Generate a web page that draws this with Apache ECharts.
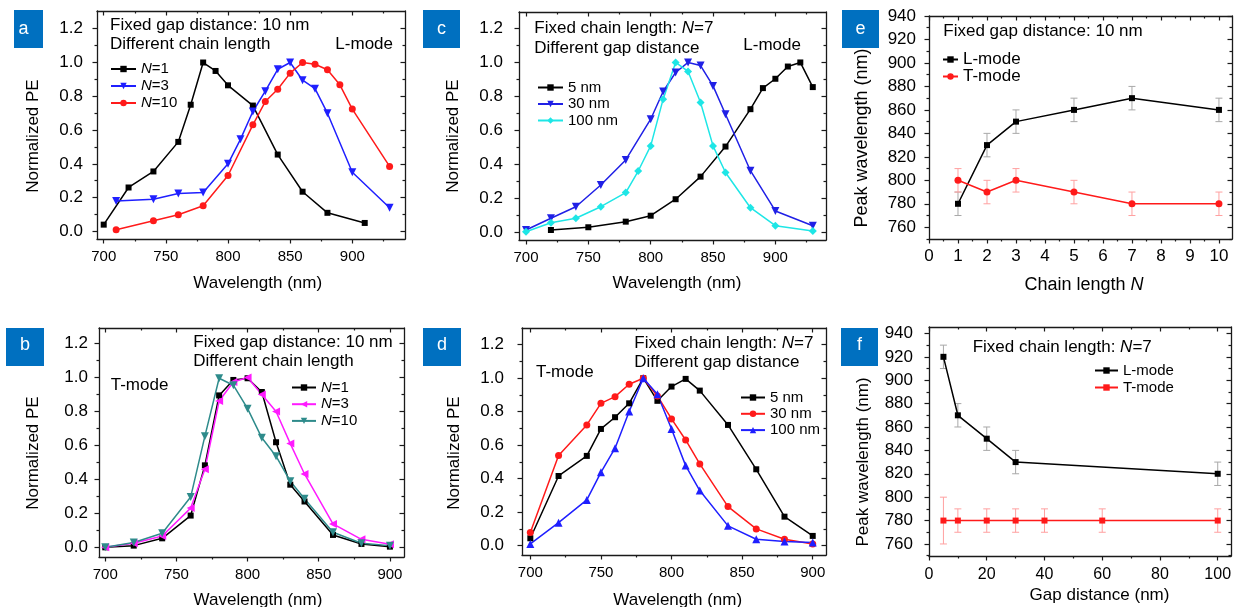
<!DOCTYPE html>
<html><head><meta charset="utf-8">
<script src="https://cdn.jsdelivr.net/npm/echarts@6/dist/echarts.min.js"></script>
<style>html,body{margin:0;padding:0;background:#fff}#c{width:1236px;height:607px}</style>
</head><body><div id="c"></div>
<script>
// ---------- DATA ----------
// Panel a: L-mode, fixed gap 10 nm, different chain length
const aN1X = [700,720,740,760,770,780,790,800,820,840,860,880,910];
const aN1Y = [0.04,0.26,0.355,0.53,0.75,1.0,0.95,0.865,0.745,0.455,0.235,0.11,0.05];
const aN3X = [710,740,760,780,800,810,820,830,840,850,860,870,880,900,930];
const aN3Y = [0.18,0.19,0.225,0.23,0.40,0.545,0.71,0.83,0.96,1.0,0.895,0.845,0.70,0.35,0.14];
const aN10X = [710,740,760,780,800,820,830,840,850,860,870,880,890,900,930];
const aN10Y = [0.01,0.063,0.099,0.152,0.331,0.631,0.769,0.842,0.937,1.0,0.99,0.957,0.868,0.724,0.385];
// Panel c: L-mode, fixed N=7, different gap
const c5X = [720,750,780,800,820,840,860,880,890,900,910,920,930];
const c5Y = [0.014,0.03,0.063,0.098,0.195,0.328,0.505,0.725,0.849,0.904,0.976,1.0,0.855];
const c30X = [700,720,740,760,780,800,810,820,830,840,850,860,880,900,930];
const c30Y = [0.014,0.083,0.151,0.279,0.426,0.666,0.829,0.941,1.0,0.982,0.862,0.695,0.363,0.126,0.039];
const c100X = [700,720,740,760,780,790,800,810,820,830,840,850,860,880,900,930];
const c100Y = [0.004,0.057,0.083,0.151,0.234,0.361,0.509,0.784,1.0,0.947,0.764,0.509,0.352,0.145,0.039,0.008];
// Panel b: T-mode, fixed gap 10 nm
const bX = [700,720,740,760,770,780,790,800,810,820,830,840,860,880,900];
const bN1 = [0,0.01,0.053,0.187,0.483,0.895,0.986,0.996,0.915,0.619,0.369,0.27,0.073,0.02,0.004];
const bN3 = [0,0.024,0.067,0.231,0.46,0.862,0.974,1.0,0.9,0.8,0.611,0.432,0.138,0.047,0.018];
const bN10 = [0,0.028,0.083,0.296,0.655,0.996,0.955,0.817,0.645,0.537,0.389,0.286,0.089,0.024,0.01];
// Panel d: T-mode, fixed N=7
const dX = [700,720,740,750,760,770,780,790,800,810,820,840,860,880,900];
const d5 = [0.044,0.416,0.536,0.697,0.767,0.85,1.0,0.865,0.95,0.996,0.926,0.721,0.456,0.173,0.058];
const d30 = [0.078,0.538,0.721,0.85,0.89,0.964,1.0,0.894,0.757,0.631,0.488,0.233,0.1,0.038,0.01];
const d100 = [0.01,0.137,0.273,0.438,0.582,0.801,1.0,0.904,0.697,0.478,0.329,0.118,0.038,0.024,0.018];
// Panel e: peak wavelength vs chain length
const eN = [1,2,3,5,7,10];
const eL = [780,830,850,860,870,860];
const eLerr = [10,10,10,10,10,10];
const eT = [800,790,800,790,780,780];
const eTerr = [10,10,10,10,10,10];
// Panel f: peak wavelength vs gap distance
const fGapL = [5,10,20,30,100];
const fL = [920,870,850,830,820];
const fLerr = [10,10,10,10,10];
const fGapT = [5,10,20,30,40,60,100];
const fT = [780,780,780,780,780,780,780];
const fTerr = [20,10,10,10,10,10,10];
// Tick values
const wlMajor = [700,750,800,850,900];
const wlMinorWide = [725,775,825,875,925];
const wlMinorNarrow = [725,775,825,875];
const peMajor = [0,0.2,0.4,0.6,0.8,1.0,1.2];
const peMinor = [0.1,0.3,0.5,0.7,0.9,1.1];
const nMajor = [0,1,2,3,4,5,6,7,8,9,10];
const nMinor = [0.5,1.5,2.5,3.5,4.5,5.5,6.5,7.5,8.5,9.5];
const pkMajor = [760,780,800,820,840,860,880,900,920,940];
const pkMinor = [750,770,790,810,830,850,870,890,910,930];
const gapMajor = [0,20,40,60,80,100];
const gapMinor = [10,30,50,70,90];

// ---------- BUILD ----------
const FONT = '"Liberation Sans", Arial, sans-serif';
const AX = '#1a1a1a';
const pairs = (xs, ys) => xs.map((x, i) => [x, ys[i]]);
const triples = (xs, ys, es) => xs.map((x, i) => [x, ys[i], es[i]]);
const grids = [], xAxes = [], yAxes = [], series = [], legends = [], graphics = [];
const richI = (fs) => ({ i: { fontStyle: 'italic', fontSize: fs, fontFamily: FONT, color: '#000' } });

function txt(t, x, y, fs, align, rot) {
  graphics.push({ type: 'text', x: x, y: y, rotation: rot || 0,
    style: { text: t, fill: '#000', fontSize: fs, fontFamily: FONT, align: align || 'left', verticalAlign: 'middle', rich: richI(fs) } });
}

function panel(p) {
  const gi = grids.length;
  grids.push({ left: p.left, top: p.top, width: p.width, height: p.height, containLabel: false, outerBoundsMode: 'none' });
  const line = { show: true, onZero: false, lineStyle: { color: AX, width: 1.3 } };
  const noLine = { show: false, onZero: false };
  const ts = { color: AX, width: 1.2 };
  const xi = xAxes.length, yi = yAxes.length;
  const bx = { gridIndex: gi, type: 'value', min: p.xMin, max: p.xMax, splitLine: { show: false }, minorTick: { show: false } };
  const by = { gridIndex: gi, type: 'value', min: p.yMin, max: p.yMax, splitLine: { show: false }, minorTick: { show: false } };
  const off = { show: false };
  xAxes.push(Object.assign({}, bx, {
    position: 'bottom', axisLine: line,
    axisTick: { show: true, inside: false, length: 4.5, customValues: p.xMajor, lineStyle: ts },
    axisLabel: { show: true, customValues: p.xMajor, margin: p.xLM, fontSize: p.tf, fontFamily: FONT, color: '#000', hideOverlap: false }
  }));
  xAxes.push(Object.assign({}, bx, { position: 'bottom', axisLine: noLine, axisTick: { show: true, inside: false, length: 2.5, customValues: p.xMinor, lineStyle: ts }, axisLabel: off }));
  xAxes.push(Object.assign({}, bx, { position: 'top', axisLine: line, axisTick: { show: true, inside: true, length: 4.5, customValues: p.xMajor, lineStyle: ts }, axisLabel: off }));
  xAxes.push(Object.assign({}, bx, { position: 'top', axisLine: noLine, axisTick: { show: true, inside: true, length: 2.5, customValues: p.xMinor, lineStyle: ts }, axisLabel: off }));
  yAxes.push(Object.assign({}, by, {
    position: 'left', axisLine: line,
    axisTick: { show: true, inside: false, length: 4.5, customValues: p.yMajor, lineStyle: ts },
    axisLabel: { show: true, customValues: p.yMajor, margin: p.yLM, fontSize: p.tfy || p.tf, fontFamily: FONT, color: '#000', hideOverlap: false, formatter: p.yFmt }
  }));
  yAxes.push(Object.assign({}, by, { position: 'left', axisLine: noLine, axisTick: { show: true, inside: false, length: 2.5, customValues: p.yMinor, lineStyle: ts }, axisLabel: off }));
  yAxes.push(Object.assign({}, by, { position: 'right', axisLine: line, axisTick: { show: true, inside: true, length: 4.5, customValues: p.yMajor, lineStyle: ts }, axisLabel: off }));
  yAxes.push(Object.assign({}, by, { position: 'right', axisLine: noLine, axisTick: { show: true, inside: true, length: 2.5, customValues: p.yMinor, lineStyle: ts }, axisLabel: off }));
  const names = [];
  p.series.forEach(s => {
    names.push(s.name);
    series.push({
      type: 'line', name: s.name, xAxisIndex: xi, yAxisIndex: yi, data: s.data,
      symbol: s.symbol, symbolSize: s.size, symbolRotate: s.rotate || 0, showSymbol: true,
      lineStyle: { color: s.color, width: 1.5 }, itemStyle: { color: s.color, borderWidth: 0 },
      emphasis: { disabled: true }, z: 3, clip: false
    });
  });
  (p.errs || []).forEach(e => {
    series.push({
      type: 'custom', name: e.name, xAxisIndex: xi, yAxisIndex: yi, data: e.data, z: 2,
      encode: { x: 0, y: 1 },
      renderItem: (params, api) => {
        const x = api.value(0), y = api.value(1), d = api.value(2);
        const t = api.coord([x, y + d]), b = api.coord([x, y - d]);
        const st = { stroke: e.color, lineWidth: 1 };
        const cw = 3.5;
        return { type: 'group', children: [
          { type: 'line', shape: { x1: t[0], y1: t[1], x2: b[0], y2: b[1] }, style: st },
          { type: 'line', shape: { x1: t[0] - cw, y1: t[1], x2: t[0] + cw, y2: t[1] }, style: st },
          { type: 'line', shape: { x1: b[0] - cw, y1: b[1], x2: b[0] + cw, y2: b[1] }, style: st }
        ] };
      }
    });
  });
  legends.push({
    left: p.lg.left, top: p.lg.top, orient: 'vertical', padding: 0,
    itemWidth: p.lg.w, itemHeight: 8, itemGap: p.lg.gap, selectedMode: false,
    data: names,
    formatter: n => n.split('|')[1].replace(/^N=/, '{i|N}='),
    textStyle: { fontSize: p.lg.fs, fontFamily: FONT, color: '#000', rich: richI(p.lg.fs) }
  });
  graphics.push({ type: 'rect', shape: { x: p.badge[0], y: p.badge[1], width: p.badge[2], height: p.badge[3] }, style: { fill: '#0070C0' } });
  graphics.push({ type: 'text', x: p.badge[4], y: p.badge[5], style: { text: p.letter, fill: '#fff', fontSize: 18, fontFamily: FONT, align: 'center', verticalAlign: 'middle' } });
  p.notes.forEach(n => txt(n[0], n[1], n[2], n[4] || 17, n[3] || 'left'));
  txt(p.xName, p.xNP[0], p.xNP[1], p.nf, 'center');
  txt(p.yName, p.yNP[0], p.yNP[1], p.nf, 'center', Math.PI / 2);
}

const PE = 'Normalized PE';
const WL = 'Wavelength (nm)';

panel({ left: 97, top: 11, width: 308, height: 228, xMin: 694.6, xMax: 942.4, yMin: -0.045, yMax: 1.305,
  xMajor: wlMajor, xMinor: wlMinorWide, yMajor: peMajor, yMinor: peMinor, xLM: 10, yLM: 14, tf: 15, tfy: 17, nf: 17,
  xName: WL, yName: PE, yFmt: v => v.toFixed(1), xNP: [257.7, 283.3], yNP: [33, 136],
  series: [
    { name: 'a|N=1', data: pairs(aN1X, aN1Y), color: '#000000', symbol: 'rect', size: 6 },
    { name: 'a|N=3', data: pairs(aN3X, aN3Y), color: '#1f1fff', symbol: 'triangle', size: 8, rotate: 180 },
    { name: 'a|N=10', data: pairs(aN10X, aN10Y), color: '#ff1a1a', symbol: 'circle', size: 7 }
  ],
  lg: { left: 110, top: 61.5, w: 25, gap: 2, fs: 15 },
  badge: [14, 10, 29, 38, 23.5, 29], letter: 'a',
  notes: [['Fixed gap distance: 10 nm', 110, 25.7], ['Different chain length', 110, 44.3], ['L-mode', 393, 44.3, 'right']]
});
panel({ left: 519, top: 12, width: 307, height: 228, xMin: 694.4, xMax: 940.6, yMin: -0.045, yMax: 1.297,
  xMajor: wlMajor, xMinor: wlMinorWide, yMajor: peMajor, yMinor: peMinor, xLM: 10, yLM: 16, tf: 15, tfy: 17, nf: 17,
  xName: WL, yName: PE, yFmt: v => v.toFixed(1), xNP: [677, 283], yNP: [453, 136],
  series: [
    { name: 'c|5 nm', data: pairs(c5X, c5Y), color: '#000000', symbol: 'rect', size: 6 },
    { name: 'c|30 nm', data: pairs(c30X, c30Y), color: '#2020e6', symbol: 'triangle', size: 8, rotate: 180 },
    { name: 'c|100 nm', data: pairs(c100X, c100Y), color: '#1ee6e6', symbol: 'diamond', size: 8 }
  ],
  lg: { left: 537, top: 80, w: 25, gap: 1.5, fs: 15 },
  badge: [423, 10, 37, 38, 441.5, 29], letter: 'c',
  notes: [['Fixed chain length: {i|N}=7', 534.3, 28.3], ['Different gap distance', 534.3, 48.3], ['L-mode', 743.3, 45]]
});
panel({ left: 929, top: 16, width: 303, height: 223, xMin: 0, xMax: 10.45, yMin: 750, yMax: 940,
  xMajor: nMajor, xMinor: nMinor, yMajor: pkMajor, yMinor: pkMinor, xLM: 9, yLM: 13, tf: 17, nf: 18,
  xName: 'Chain length {i|N}', yName: 'Peak wavelength (nm)', xNP: [1084, 285], yNP: [862, 138],
  series: [
    { name: 'e|L-mode', data: pairs(eN, eL), color: '#000000', symbol: 'rect', size: 6 },
    { name: 'e|T-mode', data: pairs(eN, eT), color: '#ff1a1a', symbol: 'circle', size: 7 }
  ],
  errs: [
    { name: 'eLerr', data: triples(eN, eL, eLerr), color: '#a8a8a8' },
    { name: 'eTerr', data: triples(eN, eT, eTerr), color: '#ffa0a0' }
  ],
  lg: { left: 942, top: 51, w: 15, gap: 0, fs: 17 },
  badge: [842, 10, 37, 38, 860.5, 29], letter: 'e',
  notes: [['Fixed gap distance: 10 nm', 943.3, 31]]
});
panel({ left: 99, top: 328, width: 305, height: 229, xMin: 695.6, xMax: 909.9, yMin: -0.057, yMax: 1.292,
  xMajor: wlMajor, xMinor: wlMinorNarrow, yMajor: peMajor, yMinor: peMinor, xLM: 10, yLM: 11, tf: 15, tfy: 17, nf: 17,
  xName: WL, yName: PE, yFmt: v => v.toFixed(1), xNP: [258, 600.5], yNP: [33, 453],
  series: [
    { name: 'b|N=1', data: pairs(bX, bN1), color: '#000000', symbol: 'rect', size: 6 },
    { name: 'b|N=3', data: pairs(bX, bN3), color: '#ff1aff', symbol: 'triangle', size: 8, rotate: 90 },
    { name: 'b|N=10', data: pairs(bX, bN10), color: '#2e8b8b', symbol: 'triangle', size: 8, rotate: 180 }
  ],
  lg: { left: 291, top: 380, w: 24, gap: 1.7, fs: 15 },
  badge: [6, 328, 38, 38, 25, 345], letter: 'b',
  notes: [['Fixed gap distance: 10 nm', 193.3, 342.7], ['Different chain length', 193.3, 361.7], ['T-mode', 110.7, 385]]
});
panel({ left: 522, top: 328, width: 304, height: 227, xMin: 694.1, xMax: 909.4, yMin: -0.056, yMax: 1.30,
  xMajor: wlMajor, xMinor: wlMinorNarrow, yMajor: peMajor, yMinor: peMinor, xLM: 10, yLM: 18, tf: 15, tfy: 17, nf: 17,
  xName: WL, yName: PE, yFmt: v => v.toFixed(1), xNP: [677.7, 600.5], yNP: [454, 453],
  series: [
    { name: 'd|5 nm', data: pairs(dX, d5), color: '#000000', symbol: 'rect', size: 6 },
    { name: 'd|30 nm', data: pairs(dX, d30), color: '#ff1a1a', symbol: 'circle', size: 7 },
    { name: 'd|100 nm', data: pairs(dX, d100), color: '#1f1fff', symbol: 'triangle', size: 8 }
  ],
  lg: { left: 740, top: 390, w: 24, gap: 1.3, fs: 15 },
  badge: [423, 328, 38, 38, 442, 345], letter: 'd',
  notes: [['Fixed chain length: {i|N}=7', 634.3, 343.3], ['Different gap distance', 634.3, 362.7], ['T-mode', 536, 372.7]]
});
panel({ left: 929, top: 327, width: 302, height: 229, xMin: 0, xMax: 104.6, yMin: 749.7, yMax: 945.5,
  xMajor: gapMajor, xMinor: gapMinor, yMajor: pkMajor, yMinor: pkMinor, xLM: 11, yLM: 16, tf: 16, tfy: 17, nf: 17,
  xName: 'Gap distance (nm)', yName: 'Peak wavelength (nm)', xNP: [1099.5, 595.7], yNP: [863, 462],
  series: [
    { name: 'f|L-mode', data: pairs(fGapL, fL), color: '#000000', symbol: 'rect', size: 6 },
    { name: 'f|T-mode', data: pairs(fGapT, fT), color: '#ff1a1a', symbol: 'rect', size: 6 }
  ],
  errs: [
    { name: 'fLerr', data: triples(fGapL, fL, fLerr), color: '#a8a8a8' },
    { name: 'fTerr', data: triples(fGapT, fT, fTerr), color: '#ffa0a0' }
  ],
  lg: { left: 1094, top: 363, w: 23, gap: 2, fs: 15 },
  badge: [841, 328, 37, 38, 859.5, 345], letter: 'f',
  notes: [['Fixed chain length: {i|N}=7', 972.7, 347.7]]
});

const chart = echarts.init(document.getElementById('c'), null, { renderer: 'canvas' });
chart.setOption({
  animation: false,
  backgroundColor: '#ffffff',
  grid: grids, xAxis: xAxes, yAxis: yAxes, series: series, legend: legends,
  graphic: graphics
});
</script></body></html>
